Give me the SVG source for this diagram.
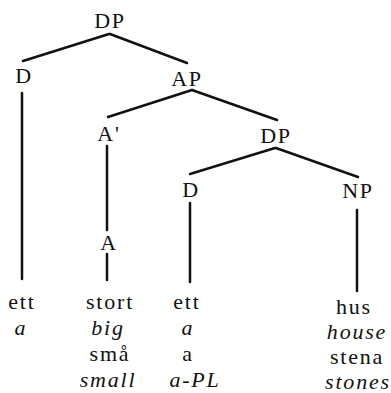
<svg xmlns="http://www.w3.org/2000/svg" width="391" height="393" viewBox="0 0 391 393">
<style>
text{font-family:"Liberation Serif","Times New Roman",serif;font-size:22px;fill:#111;text-anchor:middle;letter-spacing:1.8px}
.i{font-style:italic}
#edges line{stroke:#111;stroke-width:2.5;stroke-linecap:round}
</style>
<rect width="391" height="393" fill="#fff"/>
<g id="edges">
<line x1="109" y1="34" x2="23" y2="61"/>
<line x1="110" y1="34" x2="187" y2="63"/>
<line x1="192" y1="90" x2="108" y2="117"/>
<line x1="192" y1="90" x2="277" y2="120"/>
<line x1="275" y1="148" x2="190" y2="174"/>
<line x1="276" y1="148" x2="358" y2="177"/>
<line x1="22" y1="93" x2="22" y2="279"/>
<line x1="107" y1="146" x2="107" y2="230"/>
<line x1="107" y1="254" x2="107" y2="280"/>
<line x1="190" y1="203" x2="190" y2="282"/>
<line x1="357" y1="210" x2="357" y2="291"/>
</g>
<g id="n-dp1"><text x="110" y="28">DP</text></g>
<g id="n-d1"><text x="24" y="83">D</text></g>
<g id="n-ap"><text x="187" y="86">AP</text></g>
<g id="n-a1"><text x="109" y="141">A'</text></g>
<g id="n-a"><text x="109" y="250">A</text></g>
<g id="n-dp2"><text x="276" y="143">DP</text></g>
<g id="n-d2"><text x="191" y="197">D</text></g>
<g id="n-np"><text x="358" y="198">NP</text></g>
<g id="leaf1"><text x="22" y="309">ett</text><text class="i" x="21" y="335">a</text></g>
<g id="leaf2"><text x="110" y="309">stort</text><text class="i" x="108" y="335">big</text><text x="110" y="361">små</text><text class="i" x="108" y="387">small</text></g>
<g id="leaf3"><text x="187" y="309">ett</text><text class="i" x="188" y="335">a</text><text x="188" y="361">a</text><text class="i" x="195" y="387">a-PL</text></g>
<g id="leaf4"><text x="354" y="314">hus</text><text class="i" x="357" y="339">house</text><text x="357" y="364">stena</text><text class="i" x="358" y="389">stones</text></g>
</svg>
